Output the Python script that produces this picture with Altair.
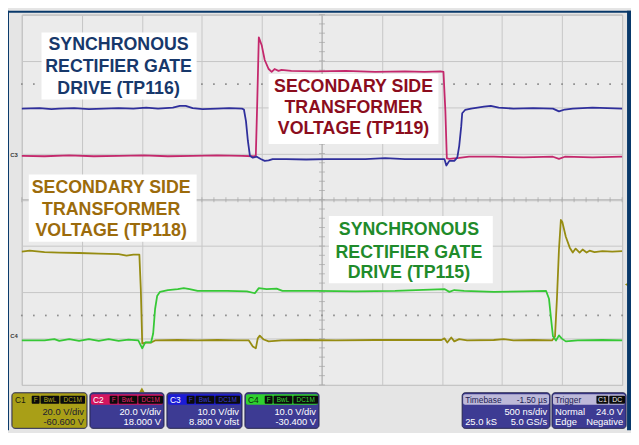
import altair as alt
import numpy as np
import pandas as pd

# ---------------- scope settings ----------------
channels = ["C1", "C2", "C3", "C4"]
volts_per_div = [20.0, 20.0, 10.0, 10.0]
offset_volts = [-60.6, 18.0, 8.8, -30.4]
offset_units = [" V", " V", " V ofst", " V"]
channel_tags = ["F", "BwL", "DC1M"]
timebase_delay_us = -1.50
time_per_div_ns = 500
record_length = "25.0 kS"
sample_rate = "5.0 GS/s"
trigger_tags = ["C1", "DC"]
trigger_mode = "Normal"
trigger_type = "Edge"
trigger_slope = "Negative"
trigger_level_v = 24.0
n_hdiv = 10
n_vdiv = 8

# C1 : secondary side transformer voltage (TP118)
c1_t = [-1.000, -0.934, -0.811, -0.688, -0.523, -0.359, -0.194, -0.128, -0.071, -0.021,
        -0.009, 0.003, 0.036, 0.077, 0.110, 0.299, 0.464, 0.628, 0.793, 0.891,
        0.924, 0.949, 0.965, 0.982, 1.015, 1.056, 1.163, 1.368, 1.615, 1.944,
        2.495, 2.520, 2.544, 2.577, 2.602, 2.643, 2.709, 2.931, 3.013, 3.095,
        3.260, 3.416, 3.441, 3.457, 3.474, 3.490, 3.502, 3.531, 3.564, 3.589,
        3.613, 3.646, 3.671, 3.704, 3.729, 3.770, 3.836, 3.918, 4.000]
c1_v = [38.2, 38.6, 38.0, 37.8, 37.6, 37.3, 37.1, 36.5, 36.9, 36.9,
        22.0, -1.5, -1.1, -1.1, -0.2, 0.0, -0.2, 0.0, -0.2, -0.2,
        -2.8, -3.6, 0.7, 1.9, 0.2, -0.6, -0.2, 0.0, -0.2, 0.0,
        0.0, 0.7, -1.1, 1.1, -0.6, 0.4, -0.2, 0.0, 0.4, -0.2,
        0.0, -0.2, 1.5, 17.7, 39.1, 51.9, 51.0, 44.6, 39.9, 37.8,
        39.5, 37.8, 39.1, 37.8, 38.6, 38.0, 38.4, 38.2, 38.4]

# C2 : secondary side transformer voltage (TP119)
c2_t = [-1.000, -0.811, -0.605, -0.400, -0.194, 0.012, 0.217, 0.423, 0.628, 0.834,
        0.924, 0.949, 0.961, 0.974, 0.998, 1.023, 1.056, 1.081, 1.105, 1.138,
        1.163, 1.245, 1.451, 1.697, 1.944, 2.191, 2.355, 2.487, 2.512, 2.528,
        2.540, 2.561, 2.602, 2.643, 2.725, 2.931, 3.178, 3.424, 3.474, 3.523,
        3.753, 4.000]
c2_v = [1.0, 0.8, 1.2, 0.8, 1.0, 1.2, 0.8, 1.0, 1.2, 1.0,
        0.8, 1.0, 24.5, 52.2, 48.8, 42.4, 38.5, 37.3, 38.5, 37.7,
        38.1, 37.7, 37.5, 37.7, 37.3, 37.5, 37.3, 37.5, 37.3, 20.2,
        -0.1, -0.3, -0.1, 0.1, 0.6, 0.6, 0.3, 0.6, -0.3, 0.6,
        0.3, 0.6]

# C3 : synchronous rectifier gate drive (TP116)
c3_t = [-1.000, -0.852, -0.753, -0.688, -0.564, -0.441, -0.317, -0.194, -0.071, 0.036,
        0.135, 0.258, 0.316, 0.365, 0.423, 0.505, 0.628, 0.727, 0.834, 0.850,
        0.867, 0.883, 0.900, 0.924, 0.957, 0.990, 1.023, 1.056, 1.089, 1.204,
        1.368, 1.533, 1.697, 1.862, 2.026, 2.191, 2.355, 2.479, 2.520, 2.536,
        2.561, 2.602, 2.627, 2.643, 2.660, 2.668, 2.692, 2.742, 2.849, 2.906,
        2.972, 3.095, 3.260, 3.424, 3.474, 3.523, 3.589, 3.753, 3.877, 4.000]
c3_v = [10.9, 11.0, 10.8, 10.9, 11.0, 10.8, 10.9, 11.0, 10.9, 11.1,
        10.9, 11.1, 11.5, 11.5, 11.0, 10.8, 10.9, 11.0, 10.9, 10.7,
        8.2, 3.9, 0.7, 0.3, 0.5, 0.0, -0.4, -0.3, 0.0, 0.0,
        -0.1, 0.0, 0.0, 0.0, 0.2, 0.0, 0.0, 0.0, 0.0, -1.4,
        -0.4, -0.4, 0.3, 2.8, 7.1, 9.9, 10.6, 10.9, 11.3, 11.5,
        11.1, 10.9, 11.0, 10.9, 10.3, 10.7, 10.9, 11.1, 11.0, 10.9]

# C4 : synchronous rectifier gate drive (TP115)
c4_t = [-1.000, -0.811, -0.729, -0.688, -0.605, -0.523, -0.441, -0.359, -0.276, -0.194,
        -0.112, -0.030, 0.003, 0.028, 0.077, 0.094, 0.110, 0.127, 0.151, 0.217,
        0.299, 0.349, 0.398, 0.464, 0.711, 0.875, 0.941, 0.974, 1.039, 1.122,
        1.171, 1.451, 1.780, 2.109, 2.520, 2.561, 2.602, 2.684, 2.931, 3.178,
        3.367, 3.391, 3.408, 3.424, 3.449, 3.474, 3.498, 3.531, 3.630, 3.836,
        4.000]
c4_v = [0.0, 0.0, 0.3, -0.1, 0.3, -0.1, 0.3, -0.1, 0.3, -0.1,
        0.2, 0.0, -1.7, -0.4, -0.4, 1.5, 6.8, 9.6, 10.5, 10.9,
        11.1, 11.3, 11.1, 10.7, 10.7, 10.6, 10.2, 11.3, 11.1, 11.2,
        10.7, 10.7, 10.6, 10.7, 11.1, 10.5, 10.9, 10.7, 10.5, 10.6,
        10.7, 9.0, 4.7, 0.9, 0.0, 1.1, 0.4, -0.2, 0.0, 0.1,
        0.0]

# ---------------- annotation texts ----------------
label_lines = [["SYNCHRONOUS", "RECTIFIER GATE", "DRIVE (TP116)"],
               ["SECONDARY SIDE", "TRANSFORMER", "VOLTAGE (TP119)"],
               ["SECONDARY SIDE", "TRANSFORMER", "VOLTAGE (TP118)"],
               ["SYNCHRONOUS", "RECTIFIER GATE", "DRIVE (TP115)"]]

# ---------------- styles & layout ----------------
trace_colors = ["#968c12", "#c4286c", "#2f2f9c", "#36c836"]
label_colors = ["#17386b", "#8b0d1d", "#9c6b0b", "#1f8b2b"]
label_box_t = [(-0.836, 0.456), (1.056, 2.470), (-0.942, 0.456), (1.558, 2.923)]
label_box_div = [(3.616, 2.165), (2.72, 1.205), (0.544, -0.907), (-0.352, -1.803)]
label_center_t = [-0.194, 1.763, -0.256, 2.224]
label_line_div = [(3.339, 2.869, 2.400), (2.443, 1.973, 1.525),
                  (0.245, -0.224, -0.683), (-0.651, -1.141, -1.589)]

FONT = "Liberation Sans"
PLOT_W, PLOT_H = 608, 375
panel_x0 = [-10, 69, 147, 226, 446, 537]
panel_x1 = [66, 144, 223, 301, 535, 612]
panel_top, panel_bottom = 383, 419
head_top, head_bottom = 384.5, 395
panel_fill = ["#a99f17", "#3d3b93", "#3d3b93", "#3d3b93", "#3d3b93", "#3d3b93"]
head_fill = ["#a99f17", "#d3155f", "#1b1bd6", "#2fd12f", "#bdb9d9", "#bdb9d9"]
name_color = ["#1c1c10", "#ffffff", "#ffffff", "#0c2a0c", "#1d1d55", "#1d1d55"]
body_text = ["#1d1d30", "#ffffff", "#ffffff", "#ffffff", "#ffffff", "#ffffff"]
tag_text = ["#b3a91c", "#e8226e", "#3a3ad8", "#38d838"]
tag_offsets = [(20, 28), (29, 48), (49, 74)]
trig_tag_offsets = [(45, 57), (58, 74)]

# ---------------- derived scales ----------------
us_per_div = time_per_div_ns / 1000.0
t_center = -timebase_delay_us
t_min = t_center - n_hdiv / 2 * us_per_div
t_max = t_center + n_hdiv / 2 * us_per_div
x_scale = alt.Scale(domain=[t_min, t_max], nice=False, zero=False)
y_scale = alt.Scale(domain=[-n_vdiv / 2, n_vdiv / 2], nice=False, zero=False)
x_axis = alt.Axis(values=[round(t_min + i * us_per_div, 3) for i in range(n_hdiv + 1)],
                  grid=True, gridColor="#c6c6c6", gridWidth=1, labels=False,
                  ticks=False, domain=False, title=None)
y_axis = alt.Axis(values=[i - n_vdiv / 2 for i in range(n_vdiv + 1)],
                  grid=True, gridColor="#c6c6c6", gridWidth=1, labels=False,
                  ticks=False, domain=False, title=None)

# ---------------- trace table (volts -> screen divisions) ----------------
rows = []
for ch, ts, vs in zip(channels, [c1_t, c2_t, c3_t, c4_t], [c1_v, c2_v, c3_v, c4_v]):
    i = channels.index(ch)
    for t, v in zip(ts, vs):
        rows.append({"t": t, "v": v, "ch": ch,
                     "d": (v + offset_volts[i]) / volts_per_div[i]})
traces_df = pd.DataFrame(rows)

X = lambda f: alt.X(f, scale=x_scale, axis=x_axis)
Y = lambda f: alt.Y(f, scale=y_scale, axis=y_axis)
PXX = lambda f: alt.X(f, scale=None, axis=None)
PXY = lambda f: alt.Y(f, scale=None, axis=None)

# center cross with minor ticks, dotted level lines
center_v = alt.Chart(pd.DataFrame({"t": [t_center]})).mark_rule(
    color="#b2b2b2", strokeWidth=1).encode(x=X("t:Q"))
center_h = alt.Chart(pd.DataFrame({"d": [0.0]})).mark_rule(
    color="#b2b2b2", strokeWidth=1).encode(y=Y("d:Q"))
tick_t = np.round(np.arange(t_min, t_max + 1e-9, us_per_div / 5), 4)
tick_d = np.round(np.arange(-n_vdiv / 2, n_vdiv / 2 + 1e-9, 0.2), 4)
ticks_h = alt.Chart(pd.DataFrame({"t": tick_t, "d": 0.0})).mark_tick(
    orient="vertical", size=5, thickness=1, color="#a4a4a4").encode(x=X("t:Q"), y=Y("d:Q"))
ticks_v = alt.Chart(pd.DataFrame({"t": t_center, "d": tick_d})).mark_tick(
    orient="horizontal", size=6, thickness=1, color="#a4a4a4").encode(x=X("t:Q"), y=Y("d:Q"))
dot_rows = [{"t": t, "d": d} for d in (2.5, -2.5) for t in tick_t]
dots = alt.Chart(pd.DataFrame(dot_rows)).mark_square(
    size=3, color="#8e8e8e", opacity=1).encode(x=X("t:Q"), y=Y("d:Q"))

traces = alt.Chart(traces_df).mark_line(strokeWidth=1.8, strokeJoin="round").encode(
    x=X("t:Q"), y=Y("d:Q"),
    color=alt.Color("ch:N", scale=alt.Scale(domain=channels, range=trace_colors), legend=None),
    order=alt.Order("t:Q"))

# label boxes and texts
box_df = pd.DataFrame([{"t0": a[0], "t1": a[1], "d0": b[0], "d1": b[1]}
                       for a, b in zip(label_box_t, label_box_div)])
boxes = alt.Chart(box_df).mark_rect(color="#ffffff").encode(
    x=X("t0:Q"), x2="t1:Q", y=Y("d0:Q"), y2="d1:Q")
lab_rows = []
for lines, tc, ds, col in zip(label_lines, label_center_t, label_line_div, label_colors):
    for s, d in zip(lines, ds):
        lab_rows.append({"t": tc, "d": d, "s": s, "c": col})
labels = alt.Chart(pd.DataFrame(lab_rows)).mark_text(
    font=FONT, fontSize=18, fontWeight="bold", baseline="middle", align="center").encode(
    x=X("t:Q"), y=Y("d:Q"), text="s:N", color=alt.Color("c:N", scale=None))

# ground markers and trigger markers
gnd_df = pd.DataFrame({"px": [-8, -8], "ch": ["C3", "C4"],
                       "d": [offset_volts[2] / volts_per_div[2], offset_volts[3] / volts_per_div[3]]})
gnd = alt.Chart(gnd_df).mark_text(font=FONT, fontSize=6, fontWeight="bold", color="#3a3a3a",
                                  baseline="bottom", dy=-1).encode(
    x=PXX("px:Q"), y=Y("d:Q"), text="ch:N")
trig_pos = alt.Chart(pd.DataFrame({"t": [0.0], "py": [380]})).mark_point(
    shape="triangle-up", filled=True, size=30, color="#9a9010", opacity=1).encode(
    x=X("t:Q"), y=PXY("py:Q"))
trig_lvl = alt.Chart(pd.DataFrame({"px": [613], "d": [(trigger_level_v + offset_volts[0]) / volts_per_div[0]]})
                     ).mark_point(shape="triangle-left", filled=True, size=26, color="#9a9010",
                                  opacity=1).encode(x=PXX("px:Q"), y=Y("d:Q"))

# ---------------- instrument chrome (pixel layout) ----------------
strips = pd.DataFrame({"x": [-14, -14, 613], "x2": [-13, 617, 617],
                       "y": [-4, -4, -4], "y2": [421, -2, 421], "c": ["#08386a"] * 3})
panel_rows, head_rows, tag_rows = [], [], []
txt_l, txt_r, txt_c = [], [], []
for i in range(6):
    x0, x1 = panel_x0[i], panel_x1[i]
    panel_rows.append({"x": x0, "x2": x1, "y": panel_top, "y2": panel_bottom, "c": panel_fill[i]})
    head_rows.append({"x": x0 + 1, "x2": x1 - 1, "y": head_top, "y2": head_bottom, "c": head_fill[i]})
    if i < 4:
        txt_l.append({"x": x0 + 3, "y": 390, "s": channels[i], "c": name_color[i], "fs": 8.5})
        for (a, b), tag in zip(tag_offsets, channel_tags):
            tag_rows.append({"x": x0 + a, "x2": x0 + b, "y": 386, "y2": 394, "c": "#0b0b0b"})
            txt_c.append({"x": x0 + (a + b) / 2, "y": 390, "s": tag, "c": tag_text[i], "fs": 6.5})
        txt_r.append({"x": x1 - 3, "y": 402, "s": f"{volts_per_div[i]:.1f} V/div",
                      "c": body_text[i], "fs": 9.5})
        txt_r.append({"x": x1 - 3, "y": 413, "s": f"{offset_volts[i]:.3f}{offset_units[i]}",
                      "c": body_text[i], "fs": 9.5})
    elif i == 4:
        txt_l.append({"x": x0 + 3, "y": 390, "s": "Timebase", "c": name_color[i], "fs": 8.5})
        txt_r.append({"x": x1 - 3, "y": 390, "s": f"{timebase_delay_us:.2f} µs", "c": name_color[i], "fs": 8.5})
        txt_r.append({"x": x1 - 3, "y": 402, "s": f"{time_per_div_ns} ns/div", "c": body_text[i], "fs": 9.5})
        txt_l.append({"x": x0 + 3, "y": 413, "s": record_length, "c": body_text[i], "fs": 9.5})
        txt_r.append({"x": x1 - 3, "y": 413, "s": sample_rate, "c": body_text[i], "fs": 9.5})
    else:
        txt_l.append({"x": x0 + 3, "y": 390, "s": "Trigger", "c": name_color[i], "fs": 8.5})
        for (a, b), tag in zip(trig_tag_offsets, trigger_tags):
            tag_rows.append({"x": x0 + a, "x2": x0 + b, "y": 386, "y2": 394, "c": "#0b0b0b"})
            txt_c.append({"x": x0 + (a + b) / 2, "y": 390, "s": tag, "c": "#f0f0f0", "fs": 7})
        txt_l.append({"x": x0 + 3, "y": 402, "s": trigger_mode, "c": body_text[i], "fs": 9.5})
        txt_r.append({"x": x1 - 3, "y": 402, "s": f"{trigger_level_v:.1f} V", "c": body_text[i], "fs": 9.5})
        txt_l.append({"x": x0 + 3, "y": 413, "s": trigger_type, "c": body_text[i], "fs": 9.5})
        txt_r.append({"x": x1 - 3, "y": 413, "s": trigger_slope, "c": body_text[i], "fs": 9.5})


def rects(df, **kw):
    return alt.Chart(pd.DataFrame(df)).mark_rect(**kw).encode(
        x=PXX("x:Q"), x2="x2:Q", y=PXY("y:Q"), y2="y2:Q", color=alt.Color("c:N", scale=None))


def texts(df, align):
    return alt.Chart(pd.DataFrame(df)).mark_text(font=FONT, align=align, baseline="middle").encode(
        x=PXX("x:Q"), y=PXY("y:Q"), text="s:N", color=alt.Color("c:N", scale=None),
        size=alt.Size("fs:Q", scale=None))


chrome = [rects(strips),
          rects(panel_rows, cornerRadius=3, stroke="#24244c", strokeWidth=1),
          rects(head_rows, cornerRadius=2),
          rects(tag_rows, cornerRadius=1),
          texts(txt_l, "left"), texts(txt_r, "right"), texts(txt_c, "center")]

chart = alt.layer(
    center_v, center_h, ticks_h, ticks_v, dots, traces, boxes, labels,
    gnd, trig_pos, trig_lvl, *chrome
).properties(
    width=PLOT_W, height=PLOT_H,
    padding={"left": 14, "top": 4, "right": 9, "bottom": 46},
    autosize=alt.AutoSizeParams(type="none"),
    background="#e5e5e5",
).configure_view(fill="#ebebeb", stroke="#b3b3b3", strokeWidth=1)

chart.save("out.html", embed_options={"renderer": "svg", "actions": False})
